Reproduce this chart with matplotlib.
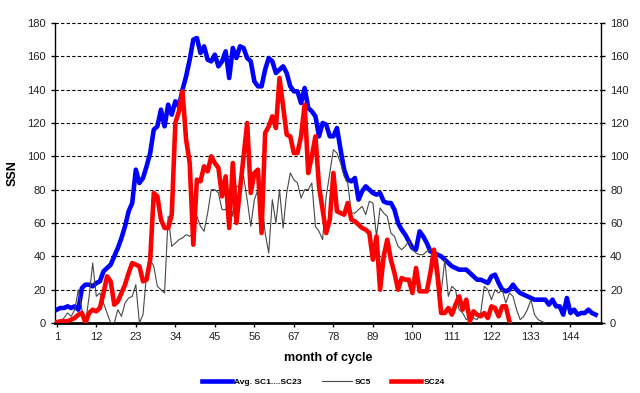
import numpy as np
import matplotlib
matplotlib.use('Agg')
import matplotlib.pyplot as plt

plt.rcParams['font.family'] = ['Liberation Sans', 'DejaVu Sans']

# Average of cycles 1..23 (monthly SSN)
avg_sc1_23 = [8, 9, 9, 10, 9, 10, 8, 21, 23, 23, 22, 24, 25, 31, 33, 35, 40, 45, 51, 58,
              67, 72, 92, 84, 87, 94, 102, 116, 118, 128, 118, 131, 125, 133, 130, 140, 148, 158, 170, 171,
              162, 166, 158, 157, 161, 154, 157, 163, 147, 165, 159, 166, 165, 159, 157, 145, 142, 142, 152, 159,
              157, 150, 152, 154, 150, 142, 139, 139, 132, 141, 129, 127, 124, 112, 120, 119, 112, 112, 117, 104,
              92, 86, 85, 87, 74, 79, 82, 80, 78, 77, 78, 73, 72, 72, 68, 60, 56, 53, 49, 45,
              44, 55, 52, 48, 43, 42, 41, 40, 38, 36, 34, 33, 32, 32, 32, 30, 28, 26, 26, 25,
              24, 28, 29, 24, 20, 19, 20, 23, 20, 18, 17, 16, 15, 14, 14, 14, 14, 11, 14, 10,
              10, 5, 15, 6, 8, 5, 6, 6, 8, 6, 5]

# Cycle 5
sc5 = [0, 1, 3, 6, 4, 8, 20, 8, 0, 16, 36, 16, 18, 12, 6, 0, 0, 8, 4, 12,
       15, 16, 23, 0, 5, 30, 38, 34, 22, 20, 18, 64, 46, 48, 50, 51, 53, 52, 54, 64,
       58, 55, 66, 80, 80, 78, 68, 68, 76, 64, 82, 82, 88, 74, 58, 74, 80, 74, 54, 42,
       74, 60, 80, 57, 78, 90, 86, 84, 75, 80, 80, 84, 58, 55, 50, 76, 90, 104, 102, 96,
       88, 84, 66, 66, 68, 70, 65, 73, 72, 52, 69, 66, 64, 54, 52, 46, 44, 46, 49, 44,
       42, 41, 41, 43, 44, 42, 38, 18, 38, 16, 22, 20, 8, 6, 2, 4, 3, 2, 6, 22,
       20, 14, 20, 18, 20, 12, 18, 16, 8, 2, 4, 8, 14, 5, 2, 1, 0]

# Cycle 24
sc24 = [0.5, 1, 1, 1, 2, 3, 5, 6, 0, 6, 8, 7, 9, 18, 28, 25, 11, 13, 18, 23,
        30, 36, 35, 34, 25, 26, 38, 78, 76, 62, 57, 57, 65, 120, 127, 139, 110, 96, 47, 86,
        85, 94, 91, 100, 96, 93, 76, 88, 57, 96, 60, 80, 100, 120, 78, 90, 92, 54, 114, 118,
        124, 117, 147, 130, 113, 112, 102, 102, 112, 131, 90, 100, 112, 82, 68, 54, 62, 90, 67, 66,
        65, 72, 62, 61, 59, 57, 56, 54, 38, 52, 20, 40, 50, 38, 30, 20, 27, 26, 26, 18,
        33, 19, 19, 19, 30, 44, 28, 6, 6, 9, 5, 11, 16, 8, 14, 1, 7, 5, 4, 6,
        3, 10, 9, 4, 10, 10, 1]

x_ticks = list(range(1, 145, 11))
y_ticks = list(range(0, 181, 20))

fig = plt.figure(figsize=(6.4, 3.93), dpi=100)
ax = fig.add_axes([55 / 640, 1 - 323 / 393, 546 / 640, 300 / 393])

# dashed horizontal grid
for yv in y_ticks[1:]:
    ax.axhline(yv, color='black', lw=0.8, ls=(0, (3, 2)), clip_on=False, zorder=1)

months = lambda s: np.arange(1, len(s) + 1)
ax.plot(months(avg_sc1_23), avg_sc1_23, color='#0000ff', lw=3.3,
        solid_joinstyle='round', label='Avg. SC1....SC23', zorder=3)
ax.plot(months(sc5), sc5, color='#484848', lw=0.8, label='SC5', zorder=4)
ax.plot(months(sc24), sc24, color='#ff0000', lw=3.3,
        solid_joinstyle='round', label='SC24', zorder=5)

ax.set_xlim(0.5, 152.5)
ax.set_ylim(0, 180)
ax.set_xticks(x_ticks)
ax.set_yticks(y_ticks)
ax.tick_params(axis='both', labelsize=8, length=3, width=1, color='black', labelcolor='#222222')
ax.tick_params(axis='y', right=True, labelright=True)

ax.spines['top'].set_visible(False)
ax.spines['bottom'].set_linewidth(2)
ax.spines['left'].set_linewidth(1)
ax.spines['right'].set_linewidth(1)

ax.set_ylabel('SSN', fontsize=9, fontweight='bold', labelpad=6)
ax.set_xlabel('month of cycle', fontsize=9, fontweight='bold', labelpad=7)

fig.legend(loc='center', bbox_to_anchor=(0.505, 1 - 382 / 393), ncol=3,
           frameon=False, prop={'size': 6, 'weight': 'bold'},
           handlelength=3.6, handletextpad=0.3, columnspacing=2.4)

fig.savefig('out.png', dpi=100)
